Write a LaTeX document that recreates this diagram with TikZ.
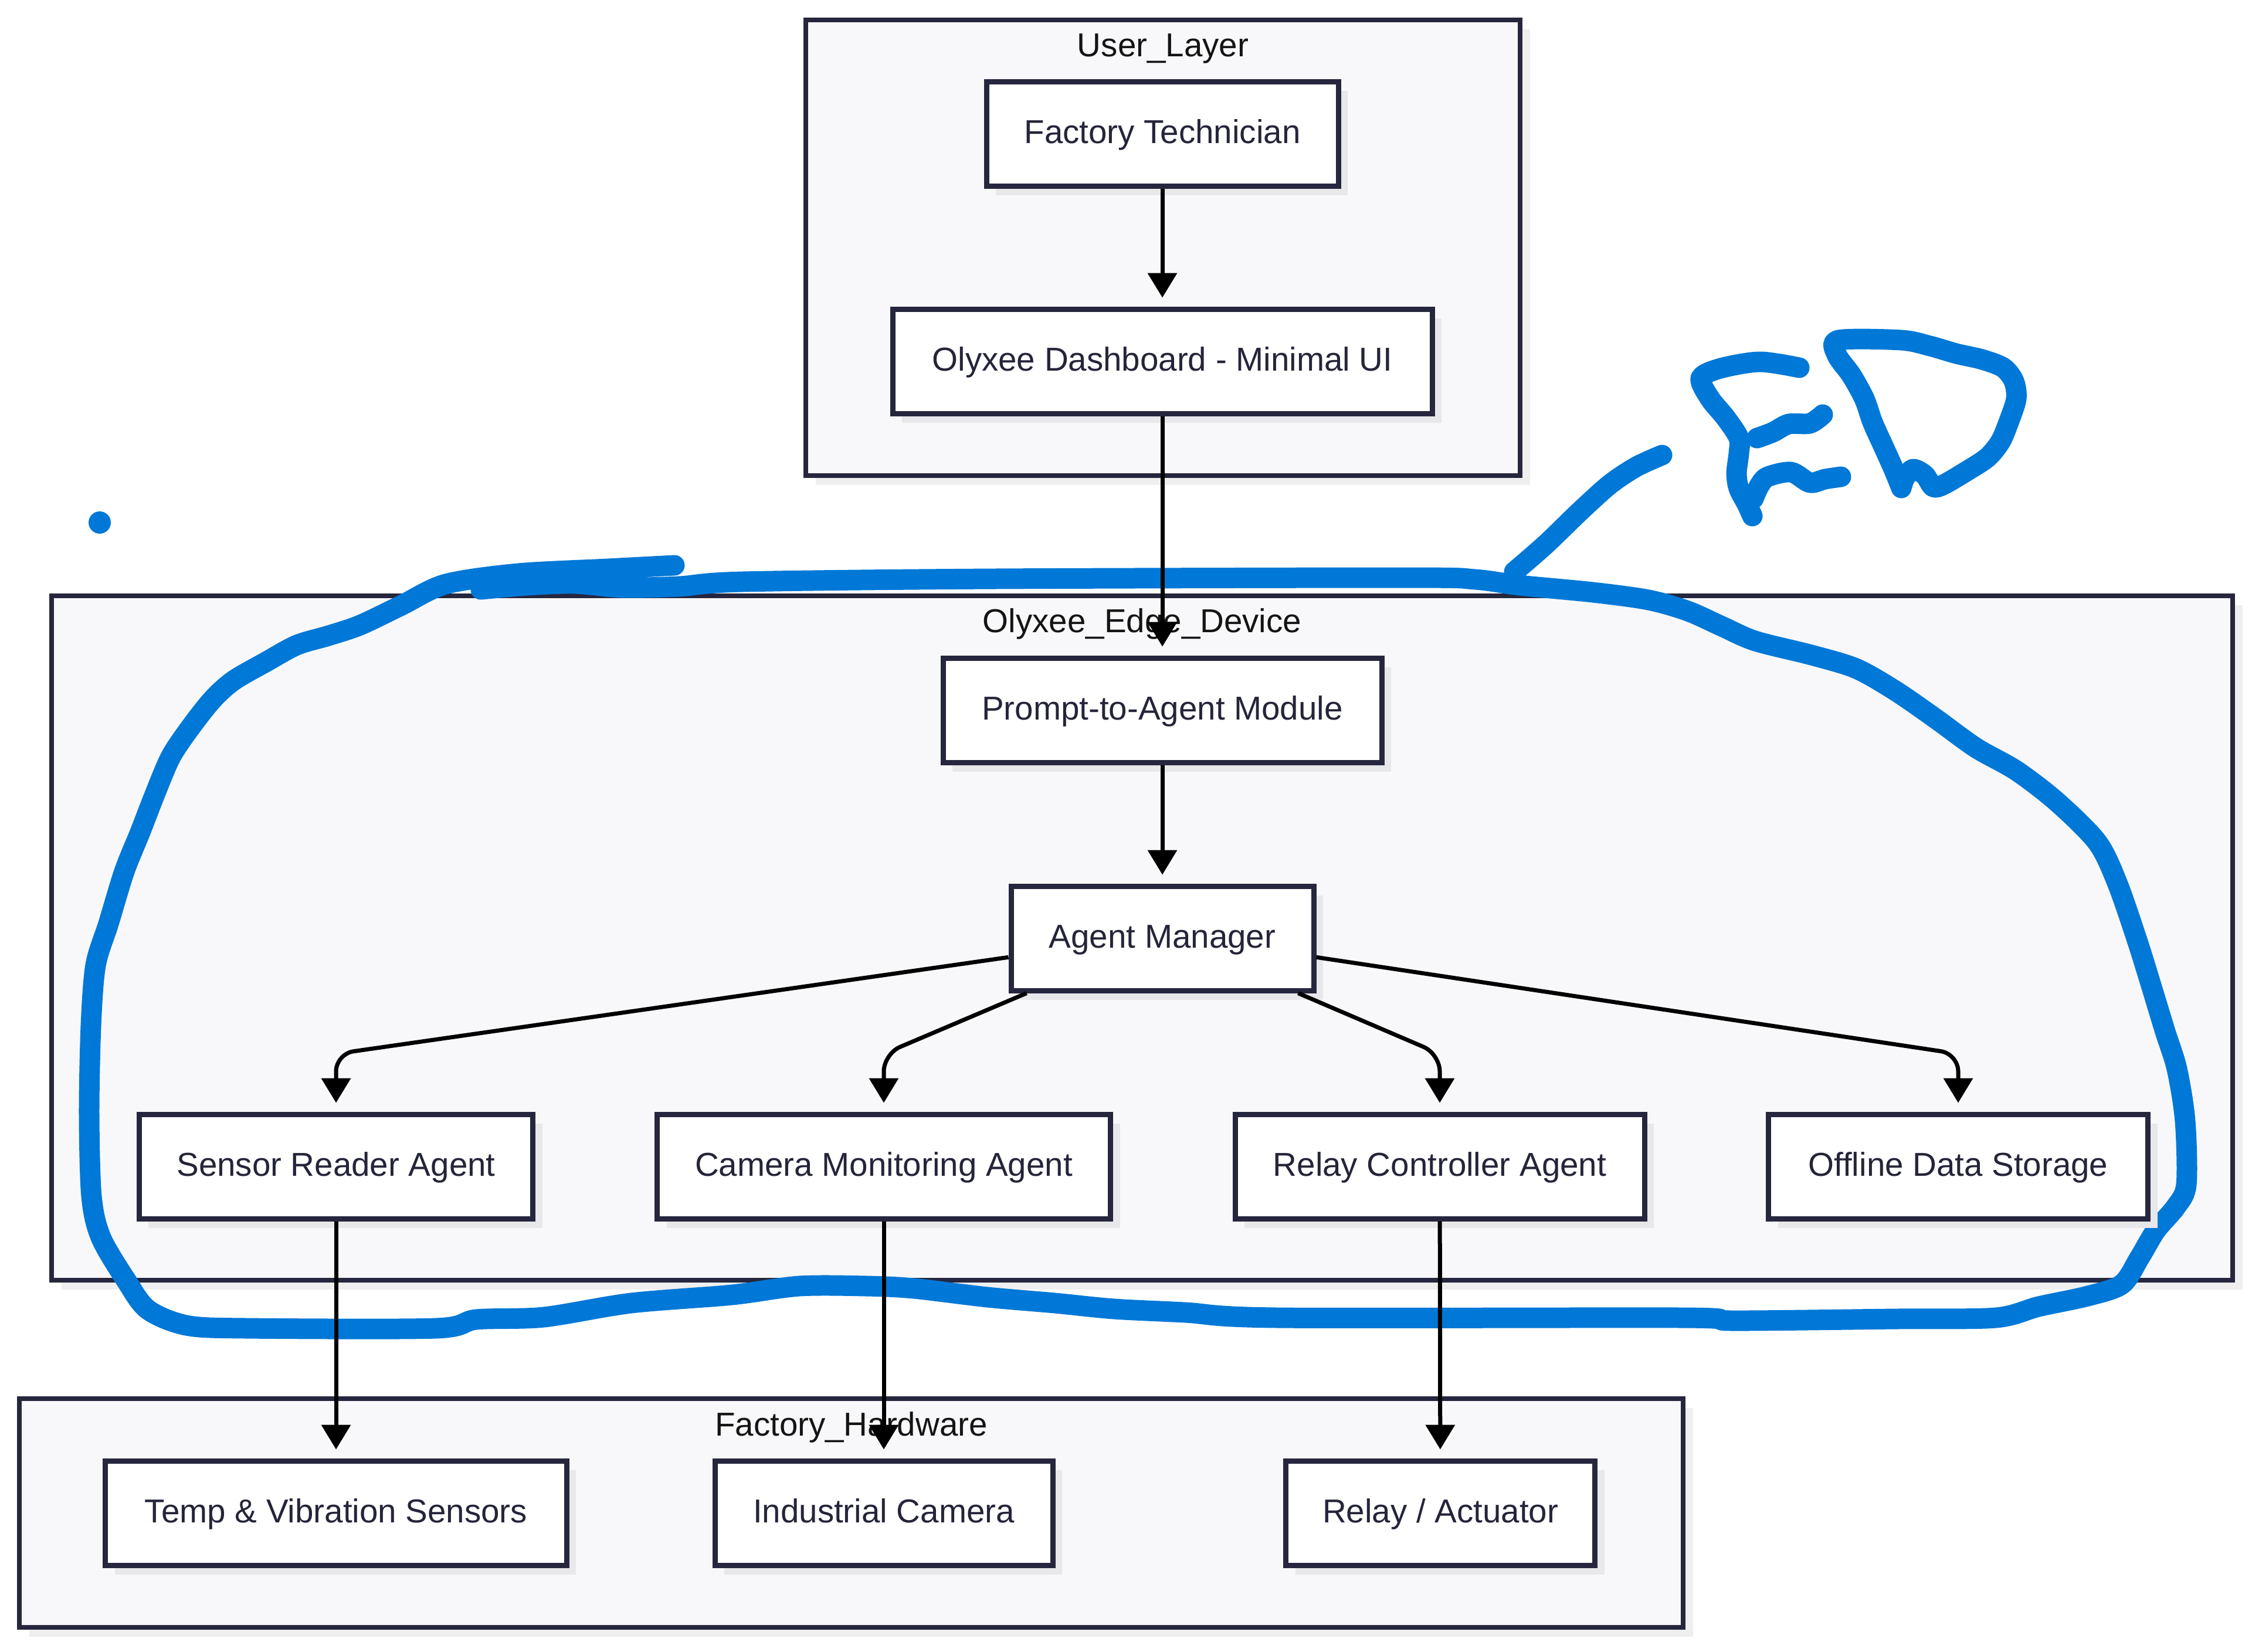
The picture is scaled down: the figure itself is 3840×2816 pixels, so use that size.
\documentclass[tikz,border=0pt]{standalone}
\usepackage{fontspec}
\setmainfont{Liberation Sans}
\usetikzlibrary{arrows.meta,shadows,calc}
\definecolor{bord}{HTML}{26263E}
\definecolor{txt}{HTML}{24243A}
\definecolor{sgfill}{HTML}{F8F8FA}
\definecolor{nshadow}{HTML}{E8E8EB}
\definecolor{sgshadow}{HTML}{EFEFEF}
\definecolor{inkblue}{HTML}{0078D7}
\begin{document}
\begin{tikzpicture}[x=0.2pt,y=-0.2pt,
  sg/.style={draw=bord, line width=1.6pt, fill=sgfill, inner sep=0pt,
    general shadow={fill=sgshadow, shadow xshift=3.4pt, shadow yshift=-3.2pt}},
  sgtitle/.style={anchor=base, inner sep=0pt, text=black!92,
    font=\fontsize{11.3}{13.6}\selectfont},
  box/.style={draw=bord, line width=1.8pt, fill=white, inner sep=0pt,
    minimum height=35.6pt, text height=10.2pt, text depth=3.6pt, text=txt,
    font=\fontsize{11.3}{13.6}\selectfont,
    general shadow={fill=nshadow, shadow xshift=3.2pt, shadow yshift=-3.2pt}},
  edge/.style={draw=black, line width=1.4pt, shorten >=3pt,
    -{Triangle[length=8.4pt,width=9.8pt]}},
  scribble/.style={draw=inkblue, line width=7pt, line cap=round, line join=round}
]
\useasboundingbox (0,0) rectangle (3840,2816);

% subgraphs
\node[sg, minimum width=243.6pt, minimum height=155.4pt] (ul) at (1983,422.5) {};
\node[sg, minimum width=743.8pt, minimum height=233.4pt] (ed) at (1947.5,1599.5) {};
\node[sg, minimum width=567.4pt, minimum height=78pt] (fh) at (1451.5,2580) {};
\node[sgtitle] (ult) at (1983,96) {User\_Layer};
\node[sgtitle] (edt) at (1947.5,1078) {Olyxee\_Edge\_Device};
\node[sgtitle] (fht) at (1451.5,2448) {Factory\_Hardware};

% hand-drawn ink
\draw[scribble] plot[smooth, tension=0.5] coordinates {
 (1150,964) (1036,970) (883,978) (760,996) (685,1032) (614,1066) (560,1084)
 (506,1100) (453,1129) (399,1160) (364,1191) (328,1236) (292,1289) (265,1352)
 (239,1419) (212,1486) (185,1575) (163,1646) (155,1750) (152,1900) (156,2040)
 (172,2110) (215,2183) (252,2233) (318,2260) (421,2265) (743,2265) (812,2250)
 (927,2246) (1076,2222) (1248,2208) (1363,2193) (1478,2193) (1558,2197)
 (1684,2212) (1799,2222) (1900,2232) (2021,2238) (2179,2247) (2870,2247)
 (2955,2252) (3233,2249) (3403,2247) (3476,2228) (3560,2210) (3618,2190)
 (3648,2145) (3676,2098) (3710,2058) (3728,2020) (3726,1912) (3712,1823)
 (3691,1756) (3664,1667) (3643,1600) (3610,1505) (3576,1436) (3507,1367)
 (3438,1314) (3369,1275) (3300,1225) (3232,1178) (3165,1140) (3089,1117)
 (2993,1093) (2936,1068) (2878,1042) (2811,1023) (2716,1010) (2591,998)
 (2515,988) (2400,985) (1694,987) (1266,992) (1158,1000) (1060,1002)
 (980,995) (900,998) (820,1005)};
\draw[scribble] plot[smooth, tension=0.5] coordinates {
 (2582,975) (2636,928) (2694,872) (2745,826) (2790,796) (2834,776)};
\draw[scribble] plot[smooth, tension=0.5] coordinates {
 (3068,627) (3001,617) (2934,628) (2900,645) (2916,680) (2943,713)
 (2965,747) (2965,773) (2961,807) (2965,833) (2979,860) (2988,880)};
\draw[scribble] plot[smooth, tension=0.5] coordinates {
 (2996,747) (3023,737) (3050,723) (3086,722) (3108,707)};
\draw[scribble] plot[smooth, tension=0.5] coordinates {
 (2990,850) (3000,828) (3014,813) (3054,805) (3086,823) (3112,817) (3139,813)};
\draw[scribble] plot[smooth, tension=0.5] coordinates {
 (3242,832) (3229,800) (3211,760) (3193,720) (3179,680) (3157,640) (3132,605)
 (3135,580) (3242,580) (3291,590) (3336,603) (3380,613) (3416,627) (3434,650)
 (3438,680) (3425,720) (3411,753) (3389,780) (3354,803) (3313,827) (3296,830)
 (3282,810) (3262,800) (3248,815) (3242,832)};
\fill[inkblue] (170,891) circle (3.8pt);

% nodes
\node[box, minimum width=120pt] (ft) at (1982,228) {Factory Technician};
\node[box, minimum width=184pt] (dash) at (1982,616) {Olyxee Dashboard - Minimal UI};
\node[box, minimum width=149.6pt] (pta) at (1982,1211) {Prompt-to-Agent Module};
\node[box, minimum width=103.2pt] (am) at (1982,1600) {Agent Manager};
\node[box, minimum width=134.2pt] (sra) at (573,1989) {Sensor Reader Agent};
\node[box, minimum width=154.6pt] (cma) at (1507,1989) {Camera Monitoring Agent};
\node[box, minimum width=139.6pt] (rca) at (2455,1989) {Relay Controller Agent};
\node[box, minimum width=129.4pt] (ods) at (3339,1989) {Offline Data Storage};
\node[box, minimum width=157.2pt] (tvs) at (573,2580) {Temp \& Vibration Sensors};
\node[box, minimum width=115.2pt] (ic) at (1507,2580) {Industrial Camera};
\node[box, minimum width=105.4pt] (ra) at (2456,2580) {Relay / Actuator};

% edges
\coordinate (elb) at (0,1797);
\draw[edge] (ft) -- (dash);
\draw[edge] (dash) -- (pta);
\draw[edge] (pta) -- (am);
\draw[edge, rounded corners=6pt] (am.187.8) -- (sra.north |- elb) -- (sra.north);
\draw[edge, rounded corners=6pt] (am.202.3) -- (cma.north |- elb) -- (cma.north);
\draw[edge, rounded corners=6pt] (am.-22.3) -- (rca.north |- elb) -- (rca.north);
\draw[edge, rounded corners=6pt] (am.-7.8) -- (ods.north |- elb) -- (ods.north);
\draw[edge] (sra) -- (tvs);
\draw[edge] (cma) -- (ic);
\draw[edge] (rca) -- (ra);
\end{tikzpicture}
\end{document}
